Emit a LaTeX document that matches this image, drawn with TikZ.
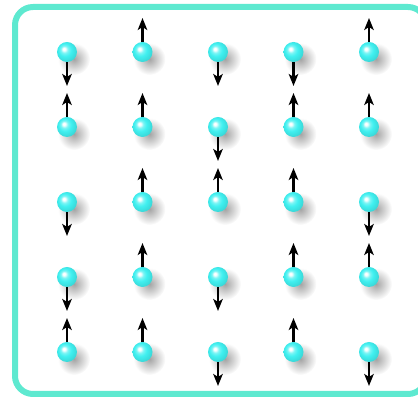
\documentclass[tikz,border=0pt]{standalone}
\usepackage{tikz}
\usetikzlibrary{calc,arrows.meta}
\definecolor{spinCyan}{RGB}{64, 240, 240}
\definecolor{frameTeal}{RGB}{94, 233, 208}
\pgfdeclareradialshading{spinball}{\pgfpoint{-8bp}{8bp}}{color(0bp)=(white); color(3bp)=(white); color(9bp)=(spinCyan!70!white); color(16bp)=(spinCyan); color(30bp)=(spinCyan!88!black); color(50bp)=(spinCyan!88!black)}
\tikzset{
  spin/.style={circle, minimum size=20pt, inner sep=0pt, shading=spinball, shade},
  spinshadow/.style={inner color=black!36, outer color=white},
  spinarrow/.style={line width=2.5pt, -{Stealth[length=12pt, width=9.5pt, inset=3pt]}}
}

\begin{document}
\begin{tikzpicture}[x=1pt,y=1pt]
    \useasboundingbox (0,0) rectangle (418,398);
    \clip (0,0) rectangle (418,398);
    \draw[frameTeal, line width=6pt, rounded corners=18pt] (15,4) rectangle (426,391);
    \foreach \row [count=\r] in {{-1,1,-1,-1,1},{1,1,-1,1,1},{-1,1,1,1,-1},{-1,1,-1,1,1},{1,1,-1,1,-1}} {
      \foreach \d [count=\c] in \row {
        \pgfmathsetmacro\xs{67+75.5*(\c-1)}
        \pgfmathsetmacro\ys{346-75*(\r-1)}
        \pgfmathtruncatemacro\a{90*\d}
        \shade[spinshadow] (\xs+7,\ys-7) circle (16);
        \node[spin] (s\r\c) at (\xs,\ys) {};
        \coordinate (t\r\c) at ($(s\r\c)+(0,34*\d)$);
        \draw[spinarrow] (s\r\c.\a) -- (t\r\c);
      }
    }
\end{tikzpicture}
\end{document}
